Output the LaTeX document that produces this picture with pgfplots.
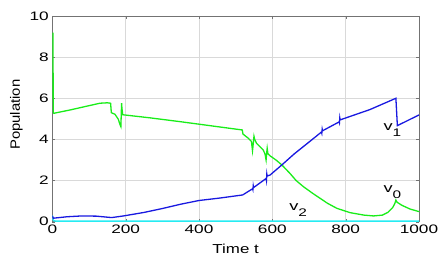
\documentclass[border=0pt]{standalone}
\usepackage{pgfplots}
\pgfplotsset{compat=1.18}
\usepackage{fontspec}
\setmainfont{Liberation Sans}
\newfontfamily\tickfont{Liberation Sans}[FakeStretch=1.4]
\newfontfamily\xlabfont{Liberation Sans}[FakeStretch=1.3]
\newfontfamily\ylabfont{Liberation Sans}[FakeStretch=1.1]
\definecolor{cgreen}{rgb}{0.1,0.93,0.1}
\definecolor{cblue}{rgb}{0.1,0.1,0.88}
\definecolor{ccyan}{rgb}{0.15,0.92,0.95}
\begin{document}
\begin{tikzpicture}
\path[use as bounding box] (-52.3pt,-40.3pt) rectangle (392.7pt,221.7pt);
\begin{axis}[
  at={(0,0)}, anchor=south west,
  width=366.7pt, height=205.7pt, scale only axis,
  xmin=0, xmax=1000, ymin=0, ymax=10,
  xtick={0,200,...,1000}, ytick={0,2,...,10},
  /pgf/number format/1000 sep={},
  /pgf/number format/assume math mode=true,
  tick label style={font=\tickfont\fontsize{12.3}{12.3}\selectfont},
  grid=major,
  major grid style={line width=0.5pt, draw=black!15},
  axis line style={draw=black!55, line width=0.6pt},
  major tick length=3pt,
  tick style={draw=black!55},
  xlabel={Time t}, ylabel={Population},
  xlabel style={font=\xlabfont\fontsize{13}{13}\selectfont, at={(axis description cs:0.5,-0.131)}, anchor=center},
  ylabel style={font=\ylabfont\fontsize{13.5}{13.5}\selectfont, at={(axis description cs:-0.098,0.52)}, anchor=center},
]
\addplot[ccyan, line width=1.4pt] coordinates {
(0,0.3) (3,0.05) (10,0.03) (1000,0.03)
};
\addplot[cgreen, line width=1.3pt] coordinates {
(2,9.19) (2.3,6.0) (2.8,5.3) (4,5.27) (48,5.43) (100,5.64) (130,5.76) (150,5.78) (159,5.76)
(161,5.30) (171,5.22) (180,4.98) (185,4.7) (187,4.62) (188,5.2) (189,5.76) (190,5.5) (192,5.2)
(266,5.05) (350,4.86) (484,4.54) (518,4.46) (520,4.26) (535,4.05) (543,3.9) (546,3.45) (548,3.8)
(550,4.15) (552,4.0) (557,3.81) (575,3.49) (580,3.3) (583,3.0) (585,3.4) (586,3.57) (588,3.3)
(594,3.2) (610,3.0) (626,2.76) (648,2.35) (665,2.0) (685,1.70) (710,1.38) (730,1.14) (750,0.9)
(776,0.65) (812,0.44) (850,0.32) (876,0.28) (900,0.32) (915,0.45) (928,0.68) (934,0.88) (937,1.05)
(940,0.95) (953,0.8) (975,0.62) (1000,0.49)
};
\addplot[cblue, line width=1.3pt] coordinates {
(0,0.28) (3,0.17) (40,0.24) (80,0.28) (120,0.27) (162,0.2) (194,0.28) (250,0.45) (300,0.64)
(350,0.85) (400,1.03) (457,1.15) (519,1.3) (530,1.42) (546,1.6) (547,1.55) (548,1.75) (549,1.66)
(583,2.1) (584,2.0) (585,2.32) (586,2.22) (594,2.27) (626,2.76) (660,3.3) (707,3.97) (734,4.36)
(735,4.3) (736,4.5) (737,4.42) (782,4.85) (783,4.8) (784,5.05) (785,4.95) (866,5.45) (937,6.0)
(941,4.67) (1000,5.19)
};
\node[anchor=base west, inner sep=0pt, font=\tickfont\fontsize{13}{13}\selectfont] at (axis cs:903,4.41) {v\raisebox{-6pt}{\fontsize{11}{11}\selectfont 1}};
\node[anchor=base west, inner sep=0pt, font=\tickfont\fontsize{13}{13}\selectfont] at (axis cs:903,1.43) {v\raisebox{-6pt}{\fontsize{11}{11}\selectfont 0}};
\node[anchor=base west, inner sep=0pt, font=\tickfont\fontsize{13}{13}\selectfont] at (axis cs:646,0.53) {v\raisebox{-6pt}{\fontsize{11}{11}\selectfont 2}};
\end{axis}
\end{tikzpicture}
\end{document}
